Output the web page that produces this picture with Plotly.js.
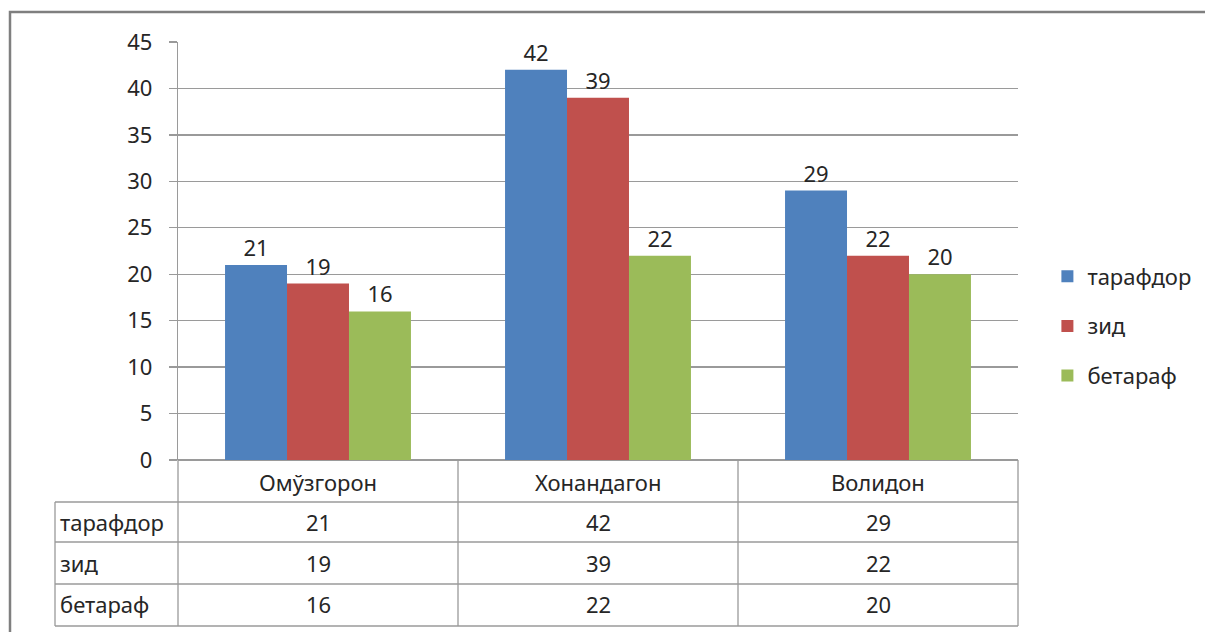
<!DOCTYPE html>
<html>
<head>
<meta charset="utf-8">
<script src="https://cdn.plot.ly/plotly-3.0.1.min.js"></script>
<style>html,body{margin:0;padding:0;background:#fff;}#chart{width:1205px;height:632px;}</style>
</head>
<body>
<div id="chart"></div>
<script>
const categories = ['Омўзгорон', 'Хонандагон', 'Волидон'];
const seriesNames = ['тарафдор', 'зид', 'бетараф'];
const tarafdor = [21, 42, 29];
const zid = [19, 39, 22];
const betaraf = [16, 22, 20];
const yTicks = [0, 5, 10, 15, 20, 25, 30, 35, 40, 45];

const seriesValues = [tarafdor, zid, betaraf];
const colors = ['#4F81BD', '#C0504D', '#9BBB59'];
const FONT = 'Noto Sans, Open Sans, sans-serif';
const FS = 22;
const TXT = '#262626';

const W = 1205, H = 632;
const L = 178, R = 1018, T = 42, B = 460;
const px = x => (x - L) / (R - L);
const py = y => (B - y) / (B - T);

const traces = seriesNames.map((name, i) => ({
  type: 'bar',
  name: name,
  x: categories,
  y: seriesValues[i],
  marker: {color: colors[i], line: {width: 0}},
  text: seriesValues[i].map(String),
  textposition: 'outside',
  textfont: {family: FONT, size: FS, color: TXT},
  cliponaxis: false,
  legendgroup: 'g' + i,
  hoverinfo: 'none'
}));

const lineStyle = {color: '#9a9a9a', width: 1.3};
const shapes = [];
function hline(x0, x1, y) {
  shapes.push({type: 'line', xref: 'paper', yref: 'paper', x0: px(x0), x1: px(x1), y0: py(y), y1: py(y), line: lineStyle});
}
function vline(x, y0, y1) {
  shapes.push({type: 'line', xref: 'paper', yref: 'paper', x0: px(x), x1: px(x), y0: py(y0), y1: py(y1), line: lineStyle});
}
// table grid
const rowLines = [502, 542, 584, 626];
rowLines.forEach(y => hline(55, 1018, y));
vline(55, 502, 626);
vline(178, 460, 626);
vline(458, 460, 626);
vline(738, 460, 626);
vline(1018, 460, 626);
// outer border
shapes.push({type: 'rect', xref: 'paper', yref: 'paper', x0: px(10), x1: px(1230), y0: py(12), y1: py(660),
  line: {color: '#7f7f7f', width: 2.5}, fillcolor: 'rgba(0,0,0,0)', layer: 'below'});

const annotations = [];
const colCenters = [318, 598, 878];
categories.forEach((c, j) => {
  annotations.push({xref: 'paper', yref: 'paper', x: px(colCenters[j]), y: py(482), text: c, showarrow: false,
    font: {family: FONT, size: FS, color: TXT}, xanchor: 'center', yanchor: 'middle'});
});
const rowCenters = [522, 563, 604];
seriesNames.forEach((s, i) => {
  annotations.push({xref: 'paper', yref: 'paper', x: px(58), y: py(rowCenters[i]), text: s, showarrow: false,
    font: {family: FONT, size: FS, color: TXT}, xanchor: 'left', yanchor: 'middle'});
  seriesValues[i].forEach((v, j) => {
    annotations.push({xref: 'paper', yref: 'paper', x: px(colCenters[j]), y: py(rowCenters[i]), text: String(v), showarrow: false,
      font: {family: FONT, size: FS, color: TXT}, xanchor: 'center', yanchor: 'middle'});
  });
});

const layout = {
  width: W, height: H,
  margin: {l: L, r: W - R, t: T, b: H - B, pad: 0, autoexpand: false},
  paper_bgcolor: '#ffffff',
  plot_bgcolor: '#ffffff',
  barmode: 'group',
  bargap: 0.336,
  bargroupgap: 0,
  showlegend: true,
  legend: {x: 1.035, xanchor: 'left', y: py(326), yanchor: 'middle',
    font: {family: FONT, size: FS, color: TXT}, tracegroupgap: 18, bgcolor: 'rgba(0,0,0,0)'},
  xaxis: {showticklabels: false, showgrid: false, zeroline: false, showline: false, ticks: '', fixedrange: true},
  yaxis: {range: [0, 45], tickvals: yTicks, ticktext: yTicks.map(String),
    showgrid: true, gridcolor: '#9a9a9a', gridwidth: 1.3,
    zeroline: true, zerolinecolor: '#9a9a9a', zerolinewidth: 1.3,
    showline: true, linecolor: '#9a9a9a', linewidth: 1.3,
    ticks: 'outside', ticklen: 8, tickcolor: '#9a9a9a', tickwidth: 1.3,
    ticklabelstandoff: 12,
    tickfont: {family: FONT, size: FS, color: TXT}, fixedrange: true},
  shapes: shapes,
  annotations: annotations,
  uniformtext: {mode: false}
};

Plotly.newPlot('chart', traces, layout, {displayModeBar: false, staticPlot: true});
</script>
</body>
</html>
